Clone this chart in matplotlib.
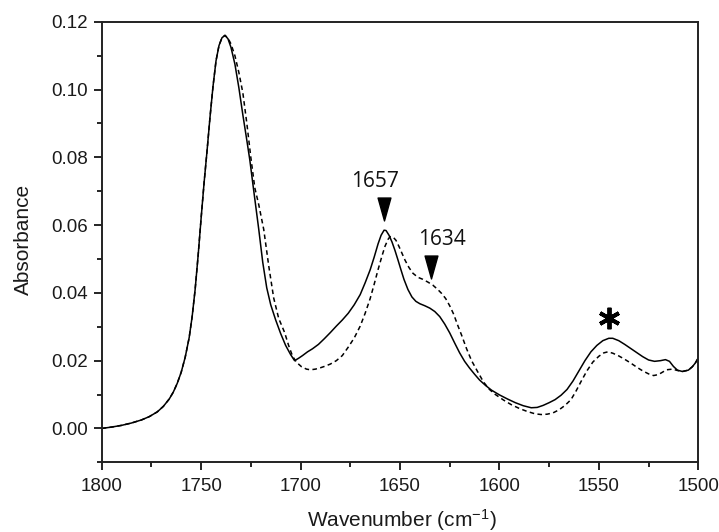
import matplotlib
matplotlib.use("Agg")
import matplotlib.pyplot as plt
from matplotlib.ticker import MultipleLocator, FormatStrFormatter
from matplotlib.path import Path

# Solid spectrum (wavenumber cm-1, absorbance)
solid_wn = [1800, 1795, 1790, 1785, 1780, 1776, 1772, 1769, 1766, 1764, 1762, 1760, 1758,
            1756, 1754.5, 1753, 1751.5, 1750, 1748.5, 1747, 1745.5, 1744, 1742.5, 1741,
            1739.5, 1738, 1736.5, 1735, 1733, 1731, 1729, 1727, 1725.5, 1723.5, 1721,
            1719, 1717, 1715, 1712.5, 1710, 1707.5, 1705, 1703, 1701, 1699, 1696.5, 1694,
            1691, 1688, 1685, 1682, 1679, 1676, 1673, 1670, 1667.5, 1665, 1663, 1661,
            1659.5, 1658, 1657, 1655.5, 1654, 1652.5, 1651, 1649.5, 1648, 1646, 1644,
            1642, 1640, 1637.5, 1635, 1632.5, 1630, 1627.5, 1625, 1622.5, 1620, 1617.5,
            1615, 1612.5, 1610, 1607, 1604, 1600, 1596, 1592, 1588, 1584, 1581, 1578,
            1575, 1572, 1569, 1566, 1563, 1560, 1557, 1554, 1551, 1548, 1545, 1543, 1540,
            1537, 1534, 1531, 1528, 1525, 1522, 1519, 1516.5, 1514.5, 1512.5, 1510.5,
            1508, 1505, 1503, 1501.5, 1500]
solid_abs = [0.0000, 0.0004, 0.0009, 0.0016, 0.0025, 0.0035, 0.0049, 0.0065, 0.0087,
             0.0107, 0.0133, 0.0166, 0.0210, 0.0268, 0.0330, 0.0410, 0.0510, 0.0620,
             0.0725, 0.0820, 0.0920, 0.1010, 0.1085, 0.1130, 0.1153, 0.1160, 0.1150,
             0.1125, 0.1075, 0.1005, 0.0925, 0.0850, 0.0792, 0.0700, 0.0587, 0.0490,
             0.0415, 0.0365, 0.0320, 0.0280, 0.0245, 0.0218, 0.0200, 0.0207, 0.0215,
             0.0226, 0.0235, 0.0248, 0.0265, 0.0283, 0.0302, 0.0320, 0.0340, 0.0365,
             0.0395, 0.0430, 0.0468, 0.0505, 0.0545, 0.0570, 0.0585, 0.0584, 0.0570,
             0.0550, 0.0525, 0.0497, 0.0468, 0.0440, 0.0410, 0.0388, 0.0375, 0.0368,
             0.0362, 0.0355, 0.0345, 0.0330, 0.0308, 0.0282, 0.0252, 0.0223, 0.0198,
             0.0178, 0.0160, 0.0143, 0.0127, 0.0113, 0.0099, 0.0087, 0.0076, 0.0067,
             0.0061, 0.0062, 0.0068, 0.0076, 0.0085, 0.0098, 0.0115, 0.0140, 0.0170,
             0.0200, 0.0226, 0.0245, 0.0259, 0.0266, 0.0266, 0.0259, 0.0248, 0.0236,
             0.0224, 0.0212, 0.0202, 0.0198, 0.0200, 0.0203, 0.0198, 0.0183, 0.0172,
             0.0168, 0.0172, 0.0182, 0.0193, 0.0208]

# Dashed spectrum
dashed_wn = [1800, 1795, 1790, 1785, 1780, 1776, 1772, 1769, 1766, 1764, 1762, 1760, 1758,
             1756, 1754.5, 1753, 1751.5, 1750, 1748.5, 1747, 1745.5, 1744, 1742.5, 1741,
             1739.5, 1738, 1736.5, 1735, 1733, 1731, 1729, 1727, 1725, 1723, 1721, 1718.5,
             1716, 1713.5, 1711, 1708, 1706, 1704, 1702, 1699.5, 1697, 1695, 1692.5, 1690,
             1687.5, 1685, 1682, 1679, 1676, 1673, 1670, 1667.5, 1665, 1663, 1661, 1659,
             1657.5, 1656, 1655, 1653.5, 1652, 1650.5, 1649, 1647.5, 1645.5, 1643.5, 1641,
             1638.5, 1636, 1633.5, 1631, 1629, 1627, 1625, 1623, 1621, 1619, 1616.5, 1614,
             1611, 1608, 1605, 1602, 1598, 1594, 1590, 1586, 1582, 1579, 1576, 1573, 1570,
             1567, 1564, 1561.5, 1559, 1556, 1553, 1550, 1547.5, 1545.5, 1543, 1540, 1537,
             1534, 1531, 1528, 1525, 1522.5, 1520, 1518, 1516, 1513, 1510.5, 1508, 1505,
             1503, 1501.5, 1500]
dashed_abs = [0.0000, 0.0004, 0.0009, 0.0016, 0.0025, 0.0035, 0.0049, 0.0065, 0.0087,
              0.0107, 0.0133, 0.0166, 0.0210, 0.0268, 0.0330, 0.0410, 0.0510, 0.0620,
              0.0725, 0.0820, 0.0920, 0.1010, 0.1085, 0.1130, 0.1153, 0.1160, 0.1152,
              0.1135, 0.1100, 0.1050, 0.0990, 0.0900, 0.0800, 0.0710, 0.0660, 0.0587,
              0.0480, 0.0385, 0.0325, 0.0283, 0.0245, 0.0213, 0.0195, 0.0182, 0.0175,
              0.0173, 0.0175, 0.0179, 0.0184, 0.0190, 0.0200, 0.0215, 0.0240, 0.0267,
              0.0302, 0.0340, 0.0383, 0.0425, 0.0469, 0.0510, 0.0538, 0.0558, 0.0566,
              0.0565, 0.0555, 0.0537, 0.0517, 0.0497, 0.0475, 0.0458, 0.0446, 0.0440,
              0.0432, 0.0423, 0.0410, 0.0398, 0.0383, 0.0362, 0.0337, 0.0305, 0.0275,
              0.0235, 0.0200, 0.0168, 0.0137, 0.0115, 0.0100, 0.0084, 0.0070, 0.0059,
              0.0050, 0.0043, 0.0041, 0.0042, 0.0046, 0.0055, 0.0068, 0.0085, 0.0110,
              0.0138, 0.0170, 0.0196, 0.0213, 0.0223, 0.0226, 0.0222, 0.0214, 0.0204,
              0.0193, 0.0181, 0.0170, 0.0161, 0.0156, 0.0159, 0.0166, 0.0173, 0.0175,
              0.0171, 0.0168, 0.0172, 0.0182, 0.0193, 0.0208]

# Annotations
peak_labels = ["1657", "1634"]
peak_marker_wn = [1658.1, 1634.6]
peak_marker_abs = [0.0647, 0.0475]
peak_text_wn = [1662.5, 1628.7]
peak_text_abs = [0.0729, 0.0558]
star_wn = 1545.0
star_abs = 0.0327

plt.rcParams['font.family'] = ['Liberation Sans', 'DejaVu Sans']
plt.rcParams['mathtext.default'] = 'regular'

fig = plt.figure(figsize=(7.19, 5.32), dpi=100)
ax = fig.add_axes([0.1414, 0.131, 0.8298, 0.828])

ax.plot(solid_wn, solid_abs, color='black', lw=1.1, ls='-')
ax.plot(dashed_wn, dashed_abs, color='black', lw=1.1, ls=(0, (3, 2.2)))

tri = Path([(-0.28, 0.5), (0.28, 0.5), (0.0, -0.5), (-0.28, 0.5)],
           [Path.MOVETO, Path.LINETO, Path.LINETO, Path.CLOSEPOLY])
for lab, mx, my, tx, ty in zip(peak_labels, peak_marker_wn, peak_marker_abs,
                               peak_text_wn, peak_text_abs):
    ax.plot([mx], [my], marker=tri, markersize=16.5, color='black', ls='none')
    ax.text(tx, ty, lab, family=['Open Sans', 'DejaVu Sans'], fontsize=15,
            ha='center', va='center', color='#111111')

ax.plot([star_wn], [star_abs], marker=(6, 2, 0), markersize=15.5,
        markeredgewidth=2.8, color='black', ls='none')

ax.set_xlim(1800, 1500)
ax.set_ylim(-0.01, 0.12)
ax.xaxis.set_major_locator(MultipleLocator(50))
ax.xaxis.set_minor_locator(MultipleLocator(25))
ax.yaxis.set_major_locator(MultipleLocator(0.02))
ax.yaxis.set_minor_locator(MultipleLocator(0.01))
ax.yaxis.set_major_formatter(FormatStrFormatter('%.2f'))

ax.tick_params(which='major', direction='out', length=5.5, width=1.2, labelsize=13.5,
               colors='black', labelcolor='#1a1a1a', top=False, right=False)
ax.tick_params(which='minor', direction='out', length=3.6, width=1.2,
               top=False, right=False)
ax.tick_params(axis='x', pad=5.5)
ax.tick_params(axis='y', pad=4.5)
for s in ax.spines.values():
    s.set_linewidth(1.4)
    s.set_color('#222222')

ax.set_xlabel("Wavenumber (cm$^{-1}$)", fontsize=15, color='#1a1a1a')
ax.xaxis.label.set_va('center')
ax.xaxis.set_label_coords(0.503, -0.132)
ax.set_ylabel("Absorbance", fontsize=15, color='#1a1a1a')
ax.yaxis.label.set_va('center')
ax.yaxis.set_label_coords(-0.131, 0.505)

fig.savefig("out.png", dpi=100)
